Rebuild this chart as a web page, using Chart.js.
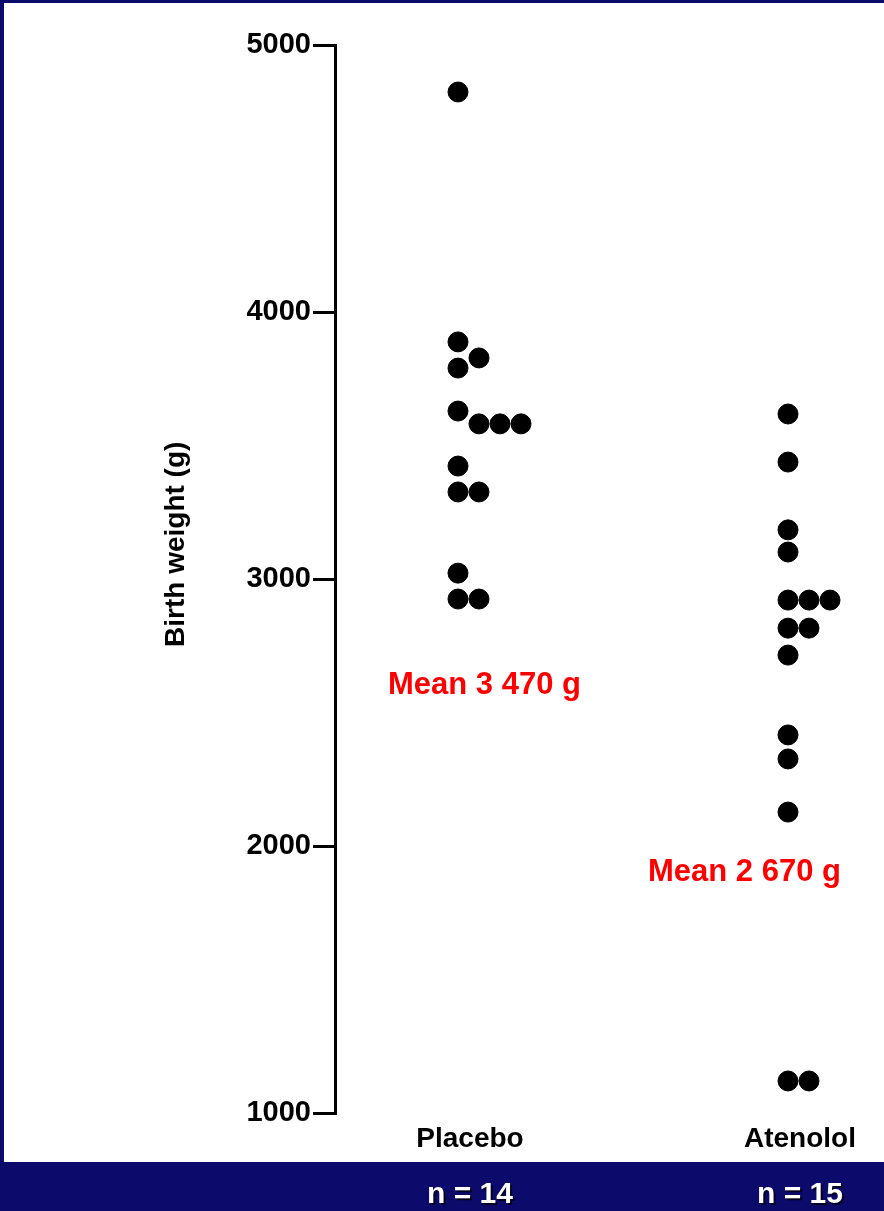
<!DOCTYPE html>
<html>
<head>
<meta charset="utf-8">
<script src="https://cdn.jsdelivr.net/npm/chart.js@4/dist/chart.umd.min.js"></script>
<style>
  html, body { margin: 0; padding: 0; background: #fff; }
  canvas { display: block; }
</style>
</head>
<body>
<canvas id="chart" width="884" height="1211"></canvas>
<script>
// Birth weight by group
const groups = ['Placebo', 'Atenolol'];
const groupCounts = ['n = 14', 'n = 15'];
const meanLabels = ['Mean 3 470 g', 'Mean 2 670 g'];
const placeboWeights = [4824, 3888, 3828, 3790, 3629, 3581, 3581, 3581, 3423, 3326, 3326, 3022, 2925, 2925];
const atenololWeights = [3618, 3438, 3184, 3101, 2921, 2921, 2921, 2816, 2816, 2715, 2416, 2326, 2127, 1120, 1120];
const yTicks = [1000, 2000, 3000, 4000, 5000];
const yTitle = 'Birth weight (g)';

const NAVY = '#0c0a6a';
const DOT_R = 10;
const FONT = "'Liberation Sans', Arial, Helvetica, sans-serif";

// Frame, bottom band, axis title and red/white annotations
const framePlugin = {
  id: 'frame',
  beforeDraw(chart) {
    const ctx = chart.ctx;
    const w = chart.width, h = chart.height;
    ctx.save();
    ctx.fillStyle = '#fff';
    ctx.fillRect(0, 0, w, h);
    ctx.fillStyle = NAVY;
    ctx.fillRect(0, 0, w, 3);
    ctx.fillRect(0, 0, 4, h);
    ctx.fillRect(0, 1162, w, h - 1162);
    ctx.restore();
  },
  afterDraw(chart) {
    const ctx = chart.ctx;
    const xs = chart.scales.x;
    const ys = chart.scales.y;
    ctx.save();

    // y axis title, sits a bit above the middle of the axis
    ctx.save();
    ctx.translate(176, ys.getPixelForValue(3130));
    ctx.rotate(-Math.PI / 2);
    ctx.fillStyle = '#000';
    ctx.font = 'bold 28px ' + FONT;
    ctx.textAlign = 'center';
    ctx.textBaseline = 'middle';
    ctx.fillText(yTitle, 0, 0);
    ctx.restore();

    // mean labels
    ctx.fillStyle = '#ff0000';
    ctx.font = 'bold 31px ' + FONT;
    ctx.textAlign = 'left';
    ctx.textBaseline = 'middle';
    ctx.fillText(meanLabels[0], xs.getPixelForValue(1) - 70, ys.getPixelForValue(2600));
    ctx.fillText(meanLabels[1], xs.getPixelForValue(2) - 140, ys.getPixelForValue(1900));

    // n = ... in the bottom band
    ctx.font = 'bold 30px ' + FONT;
    ctx.textAlign = 'center';
    ctx.fillStyle = '#fff';
    ctx.shadowColor = 'rgba(0,0,0,0.7)';
    ctx.shadowOffsetX = 2;
    ctx.shadowOffsetY = 2;
    groupCounts.forEach((txt, i) => {
      ctx.fillText(txt, xs.getPixelForValue(i + 1) + 12, 1195);
    });
    ctx.restore();
  }
};

const ctx = document.getElementById('chart').getContext('2d');
const chart = new Chart(ctx, {
  type: 'scatter',
  data: {
    datasets: [
      {
        label: groups[0],
        data: placeboWeights.map((v) => ({ x: 1, y: v })),
      },
      {
        label: groups[1],
        data: atenololWeights.map((v) => ({ x: 2, y: v })),
      },
    ],
  },
  options: {
    responsive: false,
    animation: false,
    events: [],
    layout: { padding: { top: 45, left: 0, right: 0, bottom: 56 } },
    elements: {
      point: {
        radius: DOT_R,
        backgroundColor: '#000',
        borderColor: '#000',
        borderWidth: 1,
        pointStyle: 'circle',
      },
    },
    plugins: {
      legend: { display: false },
      tooltip: { enabled: false },
    },
    scales: {
      x: {
        type: 'linear',
        min: 0.627,
        max: 2.291,
        afterBuildTicks: (s) => {
          s.ticks = groups.map((g, i) => ({ value: i + 1 }));
        },
        grid: { display: false, drawTicks: false },
        border: { display: false },
        ticks: {
          padding: 9,
          labelOffset: 12,
          color: '#000',
          font: { family: FONT, size: 28, weight: 'bold' },
          callback: (v) => groups[v - 1] || '',
        },
      },
      y: {
        min: 1000,
        max: 5000,
        afterFit: (s) => {
          s.width = 335;
        },
        afterBuildTicks: (s) => {
          s.ticks = yTicks.map((v) => ({ value: v }));
        },
        grid: {
          drawOnChartArea: false,
          drawTicks: true,
          tickLength: 22,
          color: '#000',
          lineWidth: 3,
        },
        border: { display: true, color: '#000', width: 3 },
        ticks: {
          padding: 2,
          color: '#000',
          font: { family: FONT, size: 29, weight: 'bold' },
          callback: (v) => String(v),
        },
      },
    },
  },
  plugins: [framePlugin],
});

// pin the plot area to the reference: top 45, bottom 1113,
// Placebo column at x 458 and Atenolol column at x 788
for (let pass = 0; pass < 3; pass++) {
  const ca = chart.chartArea;
  const pxPerUnit = 330;
  chart.options.layout.padding.top += 45 - ca.top;
  chart.options.layout.padding.bottom += ca.bottom - 1113;
  chart.options.scales.x.min = 1 - (458 - ca.left) / pxPerUnit;
  chart.options.scales.x.max = 2 + (ca.right - 788) / pxPerUnit;
  chart.update('none');
}

// dot-plot layout: shift tied / touching dots to the right
function layoutDots() {
  const xs = chart.scales.x;
  const ys = chart.scales.y;
  const step = (DOT_R * 2 + 1) / 2;
  const minDist = DOT_R * 2;
  [placeboWeights, atenololWeights].forEach((values, gi) => {
    const base = xs.getPixelForValue(gi + 1);
    const placed = [];
    chart.data.datasets[gi].data = values.map((v) => {
      const py = ys.getPixelForValue(v);
      let px = base;
      for (let k = 0; k < 20; k++) {
        px = base + k * step;
        if (placed.every((p) => Math.hypot(p.x - px, p.y - py) >= minDist - 0.01)) break;
      }
      placed.push({ x: px, y: py });
      return { x: xs.getValueForPixel(px), y: v };
    });
  });
  chart.update('none');
}
layoutDots();
</script>
</body>
</html>
